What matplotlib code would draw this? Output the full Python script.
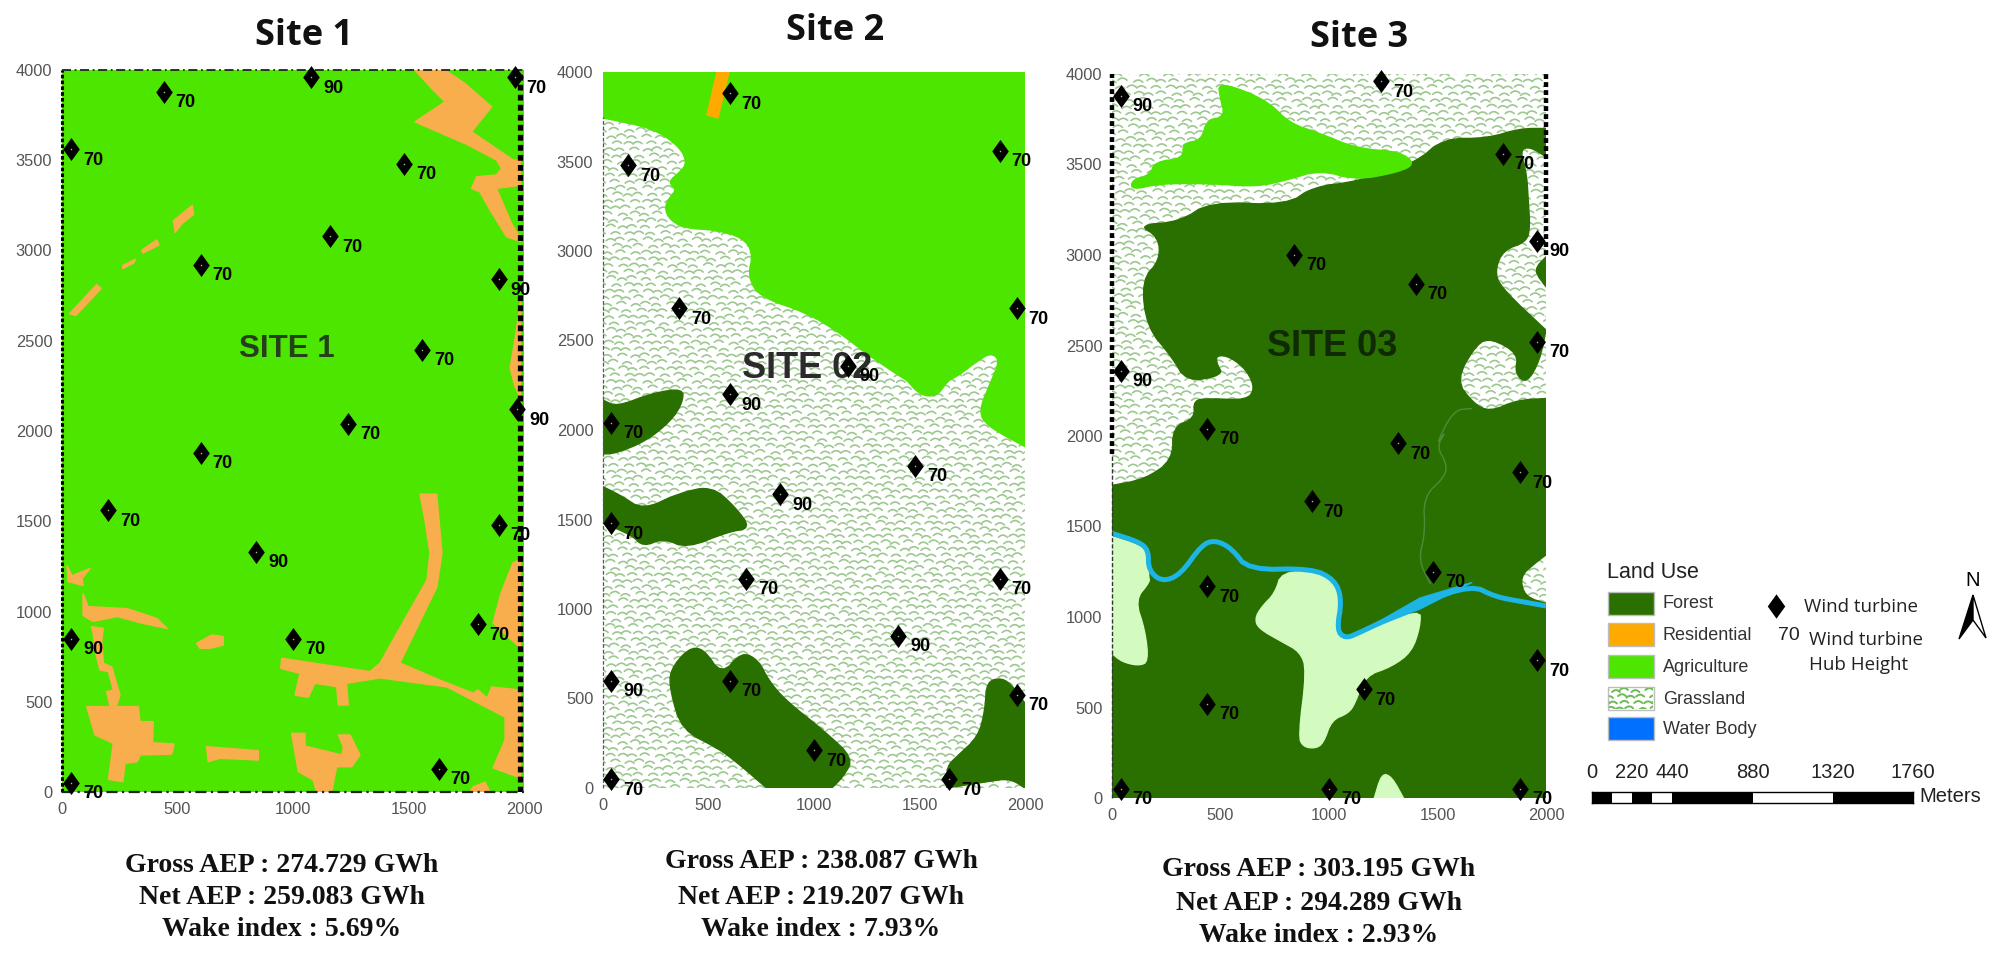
import numpy as np
import matplotlib
matplotlib.use("Agg")
import matplotlib.pyplot as plt
from matplotlib.patches import Polygon, Rectangle
from matplotlib.path import Path

W, H = 1998, 957

# ---------- turbines: x, y, hub height ----------
site1_x = [40, 40, 1000, 1630, 1800, 840, 200, 1890, 600, 1240, 1970, 1560, 1890, 600, 1160, 1480, 40, 440, 1080, 1960]
site1_y = [50, 850, 850, 130, 930, 1330, 1560, 1480, 1880, 2040, 2120, 2450, 2840, 2920, 3080, 3480, 3560, 3880, 3960, 3960]
site1_h = [70, 90, 70, 70, 70, 90, 70, 70, 70, 70, 90, 70, 90, 70, 70, 70, 70, 70, 90, 70]

site2_x = [40, 40, 600, 1000, 1640, 1960, 1400, 1880, 680, 40, 840, 1480, 40, 600, 1160, 360, 1960, 120, 1880, 600]
site2_y = [50, 600, 600, 210, 50, 520, 850, 1170, 1170, 1480, 1640, 1800, 2040, 2200, 2360, 2680, 2680, 3480, 3560, 3880]
site2_h = [70, 90, 70, 70, 70, 70, 90, 70, 70, 70, 90, 70, 70, 90, 90, 70, 70, 70, 70, 70]

site3_x = [40, 1000, 1880, 440, 1160, 1960, 440, 1480, 920, 1880, 1320, 440, 40, 1960, 1400, 840, 1960, 1800, 1240, 40]
site3_y = [50, 50, 50, 520, 600, 760, 1170, 1250, 1640, 1800, 1960, 2040, 2360, 2520, 2840, 3000, 3080, 3560, 3960, 3880]
site3_h = [70, 70, 70, 70, 70, 70, 70, 70, 70, 70, 70, 70, 90, 70, 70, 70, 90, 70, 70, 90]

# ---------- land use outlines (site metres) ----------
s1_res_top = [(1528,4000),(1658,4000),(1744,3926),(1860,3796),(1773,3658),(1954,3501),(1985,3501),(1985,3362),(1881,3344),
              (1946,3150),(1985,3067),(1985,3050),(1925,3076),(1853,3224),(1809,3325),(1773,3344),(1795,3409),(1881,3418),
              (1903,3455),(1881,3501),(1759,3584),(1528,3713),(1658,3824),(1600,3898)]
s1_res_strip = [(1985,2720),(1960,2500),(1940,2350),(1960,2250),(1985,2180)]
s1_res_road = [(1550,1650),(1622,1650),(1645,1324),(1623,1136),(1463,715),(1636,620),(1779,548),(1801,565),(1840,521),
               (1861,582),(1985,565),(1985,78),(1866,133),(1918,288),(1918,415),(1667,582),(1377,632),(1232,602),
               (1239,482),(1196,482),(1189,584),(1095,602),(1066,525),(1009,537),(1030,657),(947,685),(951,741),
               (1333,667),(1377,715),(1580,1175),(1593,1324),(1571,1507)]
s1_res_tri = [(1952,1269),(1985,1290),(1985,798),(1930,860),(1866,936),(1900,1100)]
s1_res_nub = [(1779,28),(1831,55),(1853,0),(1766,0)]
s1_res_block = [(107,473),(330,473),(338,390),(395,390),(392,273),(485,266),(475,210),(338,205),(326,168),(273,159),
                (263,57),(201,70),(222,270),(143,316)]
s1_res_band = [(91,1099),(113,1027),(282,1016),(412,961),(455,906),(351,934),(239,972),(134,945),(91,978)]
s1_res_hook = [(22,1254),(43,1199),(121,1238),(87,1182),(91,1144),(26,1166)]
s1_res_link = [(128,916),(179,907),(172,842),(179,713),(215,694),(251,537),(237,482),(208,473),(193,556),(222,565),
               (201,667),(164,676),(143,787),(136,870)]
s1_res_b1 = [(583,824),(648,870),(698,861),(698,814),(641,796),(597,796)]
s1_res_b2 = [(626,251),(850,229),(850,177),(684,187),(633,168)]
s1_res_b3 = [(994,325),(1052,325),(1052,255),(1211,205),(1218,251),(1196,316),(1247,316),(1290,205),(1254,140),
             (1189,140),(1167,0),(1102,0),(1088,66),(1023,113),(1009,214)]
s1_res_s1 = [(33,2650),(150,2811),(170,2790),(60,2640)]
s1_res_s2 = [(263,2917),(318,2952),(310,2930),(263,2900)]
s1_res_s3 = [(345,3002),(411,3059),(420,3030),(350,2985)]
s1_res_s4 = [(482,3165),(564,3250),(570,3200),(520,3150),(490,3100)]
site1_res = [s1_res_top, s1_res_strip, s1_res_road, s1_res_tri, s1_res_nub, s1_res_block, s1_res_band, s1_res_hook,
             s1_res_link, s1_res_b1, s1_res_b2, s1_res_b3, s1_res_s1, s1_res_s2, s1_res_s3, s1_res_s4]

s2_agri = [(0,4000),(0,3743),(237,3687),(365,3581),(398,3492),(365,3441),(308,3385),(351,3341),(294,3268),(303,3190),
           (379,3128),(540,3117),(664,3073),(711,2989),(687,2855),(744,2743),(967,2654),(1123,2542),(1256,2420),
           (1407,2300),(1440,2279),(1490,2210),(1542,2186),(1590,2200),(1637,2279),(1680,2300),(1780,2390),(1840,2430),
           (1880,2390),(1842,2279),(1779,2102),(1826,2018),(2000,1907),(2000,4000)]
s2_res = [(540,4000),(597,4000),(545,3743),(493,3760)]
s2_for_a = [(0,2167),(65,2130),(231,2205),(381,2233),(376,2149),(318,2046),(199,1935),(57,1869),(0,1866)]
s2_for_b = [(0,1683),(80,1637),(191,1553),(357,1646),(515,1687),(626,1571),(701,1450),(594,1432),(397,1339),(286,1395),
            (191,1348),(136,1413),(0,1480)]
s2_for_c = [(318,659),(404,780),(476,780),(562,631),(657,761),(736,715),(784,603),(863,492),(1052,315),(1187,166),
            (1139,63),(1084,0),(776,0),(641,137),(547,221),(373,324),(318,547)]
s2_for_d = [(1629,119),(1676,175),(1779,287),(1811,436),(1818,594),(1890,616),(1945,566),(2000,473),(2000,0),(1929,54),
            (1818,35),(1629,0)]
site2_forest = [s2_for_a, s2_for_b, s2_for_c, s2_for_d]

s3_agri = [(490,3948),(605,3911),(728,3838),(820,3727),(958,3672),(1127,3589),(1327,3570),(1396,3506),(1327,3460),
           (1127,3414),(958,3469),(805,3414),(667,3377),(452,3395),(221,3395),(91,3359),(91,3414),(175,3442),
           (198,3515),(329,3534),(326,3617),(413,3635),(436,3745),(521,3764),(498,3874)]
s3_forest = [(0,1727),(150,1760),(280,1867),(280,2051),(382,2097),(375,2198),(451,2207),(621,2198),(659,2263),(621,2364),
             (544,2438),(482,2447),(482,2401),(513,2336),(344,2299),(275,2438),(160,2603),(137,2861),(221,2972),
             (214,3101),(121,3165),(313,3184),(452,3294),(805,3276),(928,3377),(1127,3405),(1396,3506),(1527,3644),
             (1727,3644),(1880,3699),(2000,3699),(2000,3543),(1926,3598),(1880,3580),(1911,3451),(1919,3285),
             (1926,3156),(1911,3073),(1803,3027),(1765,2917),(1788,2824),(2000,2585),(1972,2419),(1911,2290),
             (1857,2345),(1872,2456),(1749,2539),(1681,2511),(1585,2309),(1665,2180),(1742,2134),(1865,2198),
             (2000,2207),(2000,1343),(1949,1297),(1880,1223),(1903,1112),(2000,1075),(2000,0),(0,0)]
s3_forest_edge = [(2000,2990),(1942,2917),(2000,2825)]
s3_light_a = [(0,1444),(122,1398),(168,1352),(168,1223),(175,1195),(106,1094),(152,928),(168,753),(122,731),(45,753),(0,799)]
s3_light_b = [(782,1250),(951,1250),(1028,1186),(1051,1094),(1028,947),(1066,873),(1135,900),(1420,1048),(1420,947),
              (1381,808),(1289,726),(1166,674),(1120,523),(1089,468),(1012,431),(974,302),(936,274),(882,283),(859,339),
              (897,707),(867,808),(782,864),(675,937),(659,993),(690,1057),(751,1131)]
s3_light_c = [(1209,0),(1243,136),(1289,118),(1343,0)]
s3_river_x = [0, 122, 168, 168, 229, 314, 413, 475, 552, 628, 920, 1028, 1059, 1036, 1074, 1135, 1420, 1658, 1765, 1888, 2000]
s3_river_y = [1462, 1416, 1370, 1260, 1195, 1232, 1398, 1425, 1379, 1260, 1269, 1204, 1094, 928, 882, 910, 1075, 1177, 1112, 1085, 1061]
s3_river_wide = [(1135,910),(1420,1105),(1658,1190),(1420,1045)]
s3_stream_x = [1657, 1573, 1489, 1542, 1496, 1542, 1535, 1435, 1443, 1412, 1466]
s3_stream_y = [2152, 2143, 1940, 2033, 1941, 1849, 1775, 1665, 1462, 1315, 1186]

# ---------- texts ----------
titles = ["Site 1", "Site 2", "Site 3"]
map_names = ["SITE 1", "SITE 02", "SITE 03"]
summaries = [["Gross AEP : 274.729 GWh", "Net AEP : 259.083 GWh", "Wake index : 5.69%"],
             ["Gross AEP : 238.087 GWh", "Net AEP : 219.207 GWh", "Wake index : 7.93%"],
             ["Gross AEP : 303.195 GWh", "Net AEP : 294.289 GWh", "Wake index : 2.93%"]]
legend_names = ["Forest", "Residential", "Agriculture", "Grassland", "Water Body"]
scale_edges = [0, 110, 220, 330, 440, 880, 1320, 1760]
scale_labels = [0, 220, 440, 880, 1320, 1760]

C_FOREST = "#2A7000"
C_AGRI = "#4CE600"
C_RES1 = "#F9AE4D"
C_RES2 = "#FFAA00"
C_LIGHT = "#D3FBBF"
C_RIVER = "#1DB4E6"
C_WATER = "#0070FF"
C_GRASS = "#9CC890"
SANS = "Liberation Sans"

fig = plt.figure(figsize=(W / 100, H / 100), dpi=100, facecolor="white")


def make_axes(l, r, t, b):
    ax = fig.add_axes([l / W, 1 - b / H, (r - l) / W, (b - t) / H])
    ax.set_xlim(0, 2000)
    ax.set_ylim(0, 4000)
    for s in ax.spines.values():
        s.set_visible(False)
    ax.set_xticks(range(0, 2001, 500))
    ax.set_yticks(range(0, 4001, 500))
    ax.tick_params(length=0, labelsize=11.8, labelcolor="#555555", pad=7)
    for lab in ax.get_xticklabels() + ax.get_yticklabels():
        lab.set_fontfamily(SANS)
    return ax


def grass(ax, x0, x1, y0, y1, sx, sy, lw=1.2, z=1):
    """Decorative grassland texture: rows of little arcs."""
    xs, ys = [], []
    for j, cy in enumerate(np.arange(y0, y1, sy)):
        for i, cx in enumerate(np.arange(x0 - sx, x1 + sx, sx)):
            ox = (j % 2) * sx / 2 + 0.18 * sx * np.sin(i * 1.7 + j * 2.3)
            oy = 0.18 * sy * np.sin(i * 2.9 + j * 0.7)
            t = np.linspace(-1, 1, 7)
            xs += list(cx + ox + 0.36 * sx * t) + [np.nan]
            ys += list(cy + oy + 0.32 * sy * (1 - t ** 2)) + [np.nan]
    ax.plot(xs, ys, color=C_GRASS, lw=lw, zorder=z, solid_capstyle="round")


def on_frame(p):
    return p[0] in (0, 2000) or p[1] in (0, 4000)


def rounded(pts, rounds=2):
    """Corner cutting for drawing soft outlines; vertices on the map frame stay put."""
    cur = [tuple(p) for p in pts]
    for _ in range(rounds):
        new = []
        n = len(cur)
        for i in range(n):
            p, q = np.array(cur[i], float), np.array(cur[(i + 1) % n], float)
            if on_frame(cur[i]):
                new.append(cur[i])
            else:
                new.append(tuple(0.75 * p + 0.25 * q))
            if not on_frame(cur[(i + 1) % n]):
                new.append(tuple(0.25 * p + 0.75 * q))
        cur = new
    return cur


def fill(ax, pts, color, z=2, soft=False):
    shape = rounded(pts) if soft else pts
    ax.add_patch(Polygon(shape, closed=True, facecolor=color, edgecolor=color, lw=1, joinstyle="round", zorder=z))


def soft_line(xs, ys, rounds=2):
    p = np.column_stack([xs, ys]).astype(float)
    for _ in range(rounds):
        a, b = p[:-1], p[1:]
        mid = np.empty((2 * len(a), 2))
        mid[0::2] = 0.75 * a + 0.25 * b
        mid[1::2] = 0.25 * a + 0.75 * b
        p = np.vstack([p[0], mid, p[-1]])
    return p[:, 0], p[:, 1]


DIAMOND = Path([(0, 1), (0.72, 0), (0, -1), (-0.72, 0), (0, 1)], closed=True)


def turbines(ax, xs, ys, hs):
    ax.plot(xs, ys, ls="none", marker=DIAMOND, ms=16.6, mfc="black", mec="black", mew=0, zorder=6, clip_on=False)
    ax.plot(xs, ys, ls="none", marker="o", ms=1.1, mfc="#9FC88F", mew=0, zorder=7, clip_on=False)
    for x, y, h in zip(xs, ys, hs):
        ax.annotate(str(h), (x, y), xytext=(15.8, -7.9), textcoords="offset points", ha="center", va="center",
                    fontsize=13, fontweight="bold", family=SANS, color="black", zorder=8, annotation_clip=False)


# ---------- Site 1 ----------
ax1 = make_axes(62, 524, 70, 792)
ax1.set_facecolor(C_AGRI)
for poly in site1_res:
    fill(ax1, poly, C_RES1)
ax1.plot([0, 0], [0, 4000], color="black", lw=2.2, ls=(0, (1.2, 0.7)), zorder=4, clip_on=False)
ax1.plot([1983, 1983], [0, 4000], color="black", lw=3.8, ls=(0, (1.1, 0.8)), zorder=4)
ax1.plot([0, 2000], [4000, 4000], color="#222222", lw=1.3, ls=(0, (5, 2, 1, 2)), zorder=4, clip_on=False)
ax1.plot([0, 2000], [0, 0], color="#222222", lw=1.6, ls=(0, (5, 2, 1, 2)), zorder=4, clip_on=False)
ax1.text(974, 2454, map_names[0], fontsize=22.5, fontweight="bold", family=SANS, color="#23401A",
         ha="center", va="center", zorder=5)
turbines(ax1, site1_x, site1_y, site1_h)

# ---------- Site 2 ----------
ax2 = make_axes(603, 1025, 72, 788)
ax2.set_facecolor("white")
grass(ax2, 0, 2000, 0, 4000, 58, 36)
fill(ax2, s2_agri, C_AGRI, soft=True)
fill(ax2, s2_res, C_RES2, z=3)
for poly in site2_forest:
    fill(ax2, poly, C_FOREST, soft=True)
ax2.plot([0, 0], [0, 3750], color="#555555", lw=0.9, ls=(0, (3, 1.5)), zorder=4, clip_on=False)
ax2.text(967, 2346, map_names[1], fontsize=26, fontweight="bold", family=SANS, color="#2B2B2B",
         ha="center", va="center", zorder=5)
turbines(ax2, site2_x, site2_y, site2_h)

# ---------- Site 3 ----------
ax3 = make_axes(1112, 1546, 74, 798)
ax3.set_facecolor("white")
grass(ax3, 0, 2000, 0, 4000, 58, 36)
fill(ax3, s3_forest, C_FOREST, soft=True)
fill(ax3, s3_forest_edge, C_FOREST, soft=True)
fill(ax3, s3_agri, C_AGRI, z=3, soft=True)
fill(ax3, s3_light_a, C_LIGHT, z=3, soft=True)
fill(ax3, s3_light_b, C_LIGHT, z=3, soft=True)
fill(ax3, s3_light_c, C_LIGHT, z=3, soft=True)
sx_, sy_ = soft_line(s3_stream_x, s3_stream_y)
ax3.plot(sx_, sy_, color="#4F8A3A", lw=1.0, zorder=3)
rx_, ry_ = soft_line(s3_river_x, s3_river_y)
ax3.plot(rx_, ry_, color=C_RIVER, lw=3.6, zorder=4, solid_joinstyle="round", solid_capstyle="butt")
fill(ax3, s3_river_wide, C_RIVER, z=4)
ax3.plot([0, 0], [1900, 4000], color="black", lw=3.2, ls=(0, (1.1, 0.7)), zorder=4, clip_on=False)
ax3.plot([0, 0], [0, 1900], color="#333333", lw=1.0, ls=(0, (3, 1.5)), zorder=4, clip_on=False)
ax3.plot([2000, 2000], [3000, 4000], color="black", lw=3.2, ls=(0, (1.1, 0.7)), zorder=4, clip_on=False)
ax3.text(1014, 2492, map_names[2], fontsize=26, fontweight="bold", family=SANS, color="#0F2A05",
         ha="center", va="center", zorder=5)
turbines(ax3, site3_x, site3_y, site3_h)

# ---------- overlay in picture pixels ----------
ov = fig.add_axes([0, 0, 1, 1], facecolor="none")
ov.set_xlim(0, W)
ov.set_ylim(H, 0)
ov.axis("off")

title_pos = [(304, 36), (835, 31), (1359, 38)]
for name, (x, y) in zip(titles, title_pos):
    ov.text(x, y, name, fontsize=26, fontweight="bold", family="Open Sans", ha="center", va="center", color="#111111")

sum_x = [282, 821, 1319]
sum_y = [[865, 897, 930], [862, 897, 930], [870, 903, 936]]
for lines, x, ys in zip(summaries, sum_x, sum_y):
    for line, y in zip(lines, ys):
        ov.text(x, y, line, fontsize=20, fontweight="bold", family="Liberation Serif", ha="center", va="center",
                color="#111111")

# legend
ov.text(1607, 572, "Land Use", fontsize=15.5, family=SANS, ha="left", va="center", color="#222222")
sw_top = [592, 623, 655, 687, 717]
sw_lab = [603, 635, 667, 699, 729]
sw_col = [C_FOREST, C_RES2, C_AGRI, "white", C_WATER]
for name, top, ly, col in zip(legend_names, sw_top, sw_lab, sw_col):
    ov.add_patch(Rectangle((1608, top), 46, 23, facecolor=col, edgecolor="#BDBDBD", lw=1, zorder=2))
    ov.text(1663, ly, name, fontsize=13, family=SANS, ha="left", va="center", color="#333333")
swatch = fig.add_axes([1609 / W, 1 - 709 / H, 44 / W, 21 / H])
swatch.set_xlim(0, 44)
swatch.set_ylim(0, 21)
swatch.axis("off")
C_GRASS = "#6CBB55"
grass(swatch, 0, 44, 0, 21, 11, 6, lw=1.4)

ov.plot([1776], [606], ls="none", marker=DIAMOND, ms=17.5, mfc="black", mew=0)
ov.text(1804, 607, "Wind turbine", fontsize=13.5, family="Open Sans", ha="left", va="center", color="#222222")
ov.text(1789, 635, "70", fontsize=14, family=SANS, ha="center", va="center", color="#222222")
ov.text(1809, 640, "Wind turbine", fontsize=13.5, family="Open Sans", ha="left", va="center", color="#222222")
ov.text(1809, 665, "Hub Height", fontsize=13.5, family="Open Sans", ha="left", va="center", color="#222222")

# north arrow
ov.text(1973, 581, "N", fontsize=14.5, family=SANS, ha="center", va="center", color="black")
ov.add_patch(Polygon([(1973, 595), (1959, 639), (1973, 620)], closed=True, facecolor="black", edgecolor="black", lw=1))
ov.add_patch(Polygon([(1973, 595), (1986, 638), (1973, 620)], closed=True, facecolor="white", edgecolor="black", lw=1))

# scale bar
sb = fig.add_axes([1592 / W, 1 - 803 / H, 321 / W, 11 / H])
sb.set_xlim(scale_edges[0], scale_edges[-1])
sb.set_ylim(0, 1)
sb.set_xticks([])
sb.set_yticks([])
for s in sb.spines.values():
    s.set_color("black")
    s.set_linewidth(1)
for i, (a, b) in enumerate(zip(scale_edges[:-1], scale_edges[1:])):
    sb.barh(0.5, b - a, left=a, height=1, color="black" if i % 2 == 0 else "white", linewidth=0)
for v in scale_labels:
    sb.annotate(str(v), (v, 1), xytext=(0, 7), textcoords="offset points", ha="center", va="bottom",
                fontsize=14.5, family=SANS, color="#222222", annotation_clip=False)
ov.text(1919, 796, "Meters", fontsize=14.5, family=SANS, ha="left", va="center", color="#222222")

fig.savefig("out.png", dpi=100)
